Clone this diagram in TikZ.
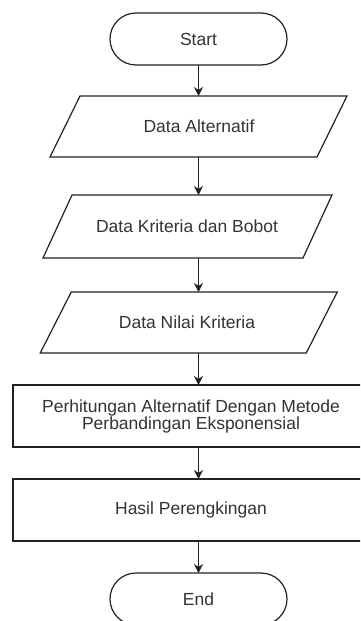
\documentclass[tikz,border=0pt]{standalone}
\usepackage{fontspec}
\setmainfont{Liberation Sans}
\usetikzlibrary{arrows.meta}
\definecolor{lc}{HTML}{222222}
\definecolor{tc}{HTML}{333333}
\tikzset{
  lbl/.style={inner sep=0pt, outer sep=0pt, text=tc, align=center, font=\fontsize{17.5}{17}\selectfont},
  term/.style={lbl, draw=lc, line width=1.2pt, rounded corners=26pt, minimum width=177pt, minimum height=52pt},
  para/.style={lbl, minimum width=267pt, minimum height=61pt},
  proc/.style={lbl, draw=lc, line width=1.2pt, minimum width=356pt, minimum height=62pt},
  arr/.style={draw=lc, line width=1.2pt, -{Stealth[length=9pt,width=9pt]}},
  edge/.style={draw=lc, line width=1.2pt}
}
\begin{document}
\begin{tikzpicture}[x=1pt,y=-1pt]
\useasboundingbox (0,0) rectangle (360,621);
\clip (0,0) rectangle (360,621);
\fill[white] (0,0) rectangle (360,621);
\node[term] (start) at (198.5,39) {Start};
\node[para] (p1) at (198.5,126.5) {};
\node[lbl] at (199,126.5) {Data Alternatif};
\node[para, minimum height=63pt, minimum width=260pt] (p2) at (187.5,226.5) {};
\node[lbl] at (187,226.5) {Data Kriteria dan Bobot};
\node[para, minimum width=266pt] (p3) at (188.75,322.5) {};
\node[lbl] at (187,322.5) {Data Nilai Kriteria};
\node[proc] (r1) at (191,416) {Perhitungan Alternatif Dengan Metode\\Perbandingan Eksponensial};
\node[proc] (r2) at (191,510) {Hasil Perengkingan};
\node[term] (end) at (198.5,599) {End};
\draw[edge] ([xshift=15pt]p1.north west) -- ([xshift=15pt]p1.north east) -- ([xshift=-15pt]p1.south east) -- ([xshift=-15pt]p1.south west) -- cycle;
\draw[edge] ([xshift=14.5pt]p2.north west) -- ([xshift=14.5pt]p2.north east) -- ([xshift=-14.5pt]p2.south east) -- ([xshift=-14.5pt]p2.south west) -- cycle;
\draw[edge] ([xshift=15.5pt]p3.north west) -- ([xshift=15.5pt]p3.north east) -- ([xshift=-15.5pt]p3.south east) -- ([xshift=-15.5pt]p3.south west) -- cycle;
\draw[arr] (start.south) -- (start.south |- p1.north);
\draw[arr] (p1.south -| start) -- (p2.north -| start);
\draw[arr] (p2.south -| start) -- (p3.north -| start);
\draw[arr] (p3.south -| start) -- (r1.north -| start);
\draw[arr] (r1.south -| start) -- (r2.north -| start);
\draw[arr] (r2.south -| start) -- (end.north);
\end{tikzpicture}
\end{document}
